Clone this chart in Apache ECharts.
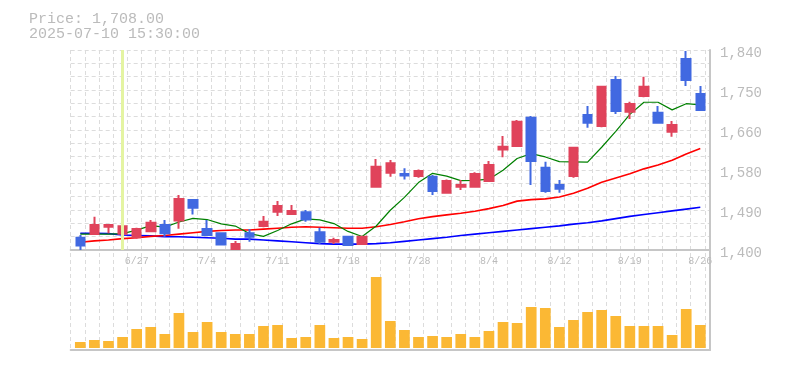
<!DOCTYPE html>
<html><head><meta charset="utf-8">
<script src="https://cdn.jsdelivr.net/npm/echarts@6.0.0/dist/echarts.min.js"></script>
<style>html,body{margin:0;padding:0;background:#fff}#c{width:785px;height:370px}</style>
</head><body><div id="c"></div>
<script>
const dates = ['6/23','6/24','6/25','6/26','6/27','6/30','7/1','7/2','7/3','7/4',
  '7/7','7/8','7/9','7/10','7/11','7/14','7/15','7/16','7/17','7/18',
  '7/22','7/23','7/24','7/25','7/28','7/29','7/30','7/31','8/1','8/4',
  '8/5','8/6','8/7','8/8','8/12','8/13','8/14','8/15','8/18','8/19',
  '8/20','8/21','8/22','8/25','8/26'];
const opens  = [1427,1435,1451,1436,1428,1441,1455,1465,1510,1446,1437,1402,1437,1453,1484,1479,1483,1439,1418,1429,1413,1539,1570,1567,1563,1561,1526,1539,1539,1552,1621,1629,1691,1581,1543,1563,1697,1673,1774,1704,1739,1702,1660,1820,1743];
const highs  = [1433,1473,1457,1457,1449,1466,1466,1521,1510,1466,1439,1420,1446,1475,1508,1499,1488,1449,1427,1431,1429,1600,1598,1580,1577,1565,1555,1554,1571,1596,1651,1686,1695,1594,1554,1625,1717,1761,1783,1726,1781,1717,1684,1838,1761];
const lows   = [1400,1435,1437,1435,1425,1440,1429,1447,1478,1431,1412,1402,1418,1450,1475,1477,1462,1413,1413,1411,1413,1537,1561,1555,1559,1521,1526,1532,1537,1550,1604,1628,1543,1526,1526,1559,1669,1670,1699,1688,1736,1680,1649,1761,1708];
const closes = [1410,1455,1455,1452,1446,1460,1437,1512,1493,1433,1412,1413,1429,1462,1497,1486,1467,1418,1422,1411,1429,1583,1591,1564,1574,1530,1552,1543,1567,1587,1627,1682,1596,1530,1535,1625,1680,1759,1706,1721,1759,1680,1675,1774,1708];
const volumes = [18000,24000,21000,33000,57000,63000,42000,105000,48000,78000,48000,42000,42000,66000,69000,30000,33000,69000,30000,33000,27000,213000,81000,54000,33000,36000,33000,42000,33000,51000,78000,75000,123000,120000,63000,84000,108000,114000,96000,66000,66000,66000,39000,117000,69000];
const ma5  = [1435,1435,1435,1436,1443.7,1453.7,1450.2,1461.6,1469.7,1467.0,1457.5,1452.6,1436.1,1429.9,1442.8,1457.6,1468.5,1466.3,1458.2,1440.9,1429.6,1452.8,1487.4,1515.9,1548.4,1568.7,1562.4,1552.7,1553.3,1555.9,1575.3,1601.4,1612.1,1604.7,1594.3,1593.9,1593.4,1626.0,1661.0,1698.3,1725.1,1725.1,1708.3,1721.9,1719.3];
const ma25 = [1417,1420,1422,1425,1427,1430,1432,1435,1438,1441,1443,1444,1444,1446,1448,1450,1451,1450,1449,1448,1448,1451,1456,1462,1468.6,1473.4,1477.3,1480.8,1485.4,1491.0,1497.7,1507.5,1510.9,1512.4,1516.5,1525.0,1535.7,1548.9,1558.6,1567.6,1578.5,1587.0,1597.3,1611.4,1623.2];
const ma75 = [1437,1437,1436,1433,1432,1431,1429,1429,1428,1427,1426,1424,1424,1422,1420,1418,1416,1414,1413,1413,1413,1414,1416,1419,1422,1425,1428,1432,1435,1438,1441,1444,1447,1450,1453,1457,1460,1464,1469,1474,1478,1482,1486,1490,1494];
const priceTickLabels = ['1,400','1,490','1,580','1,660','1,750','1,840'];
const priceMin = 1400, priceMax = 1840, priceStep = 88;
const headerLines = ['Price: 1,708.00', '2025-07-10 15:30:00'];
const highlightIndex = 3;
const labelEvery = 5;
const volumeMax = 234000;
const gridRows = 15;

const gray = '#c6c6c6';
const dash = {color:'#dcdcdc', width:1, type:[4,3]};
const fontFam = '"Liberation Mono", "DejaVu Sans Mono", monospace';
const outerL = 70.7, outerR = 75, innerL = 73.25, innerR = 77.65;
const bandPx = (785 - innerL - innerR) / dates.length;
const vMax = (785 - outerR - outerL) / bandPx;

const chart = echarts.init(document.getElementById('c'));
chart.setOption({
  animation: false,
  backgroundColor: '#fff',
  graphic: headerLines.map((t, i) => ({
    type: 'text', left: 29, top: 11.5 + i * 15.5,
    style: {text: t, fill: '#bbbbbb', font: '15px ' + fontFam}
  })),
  grid: [
    {left: innerL, right: innerR, top: 50, height: 200},
    {left: innerL, right: innerR, top: 270, height: 78},
    {left: outerL, right: outerR, top: 50, height: 200},
    {left: outerL, right: outerR, top: 50, height: 300}
  ],
  xAxis: [
    {type: 'category', gridIndex: 0, data: dates, boundaryGap: true,
     axisLine: {show: false}, axisTick: {show: false}, splitLine: {show: false},
     axisLabel: {interval: (i) => (dates.length - 1 - i) % labelEvery === 0,
       color: '#bbbbbb', fontFamily: fontFam, fontSize: 10, margin: 6}},
    {type: 'category', gridIndex: 1, data: dates, boundaryGap: true,
     axisLine: {show: false}, axisTick: {show: false}, axisLabel: {show: false}, splitLine: {show: false}},
    {type: 'value', gridIndex: 2, min: 0, max: 1,
     axisLine: {show: true, onZero: false, lineStyle: {color: gray, width: 2}},
     axisTick: {show: false}, axisLabel: {show: false}, splitLine: {show: false}},
    {type: 'value', gridIndex: 3, min: 0, max: vMax, interval: 1,
     axisLine: {show: true, onZero: false, lineStyle: {color: gray, width: 2}},
     axisTick: {show: false}, axisLabel: {show: false},
     splitLine: {show: true, lineStyle: dash}}
  ],
  yAxis: [
    {type: 'value', gridIndex: 0, position: 'right', offset: 785 - outerR - (785 - innerR),
     min: priceMin, max: priceMax, interval: priceStep,
     axisLine: {show: false}, axisTick: {show: false}, splitLine: {show: false},
     axisLabel: {margin: 10, color: '#bbbbbb', fontFamily: fontFam, fontSize: 14,
       verticalAlign: 'top', lineHeight: 6,
       formatter: (v) => priceTickLabels[Math.round((v - priceMin) / priceStep)]}},
    {type: 'value', gridIndex: 1, min: 0, max: volumeMax, show: false},
    {type: 'value', gridIndex: 2, min: 0, max: gridRows, interval: 1, position: 'right',
     axisLine: {show: false}, axisTick: {show: false}, axisLabel: {show: false},
     splitLine: {show: true, lineStyle: dash}},
    {type: 'value', gridIndex: 3, min: 0, max: 1, position: 'right',
     axisLine: {show: true, onZero: false, lineStyle: {color: gray, width: 2}},
     axisTick: {show: false}, axisLabel: {show: false}, splitLine: {show: false}}
  ],
  series: [
    {type: 'line', xAxisIndex: 0, yAxisIndex: 0, data: [], z: 1, silent: true,
     markLine: {silent: true, symbol: 'none', animation: false,
       label: {show: false}, lineStyle: {color: '#e4f4a2', width: 3, type: 'solid'},
       data: [{xAxis: dates[highlightIndex]}]}},
    {type: 'line', name: 'MA75', xAxisIndex: 0, yAxisIndex: 0, data: ma75, symbol: 'none', z: 2,
     lineStyle: {color: '#0000ff', width: 1.6}},
    {type: 'line', name: 'MA25', xAxisIndex: 0, yAxisIndex: 0, data: ma25, symbol: 'none', z: 2,
     lineStyle: {color: '#ff0000', width: 1.6}},
    {type: 'line', name: 'MA5', xAxisIndex: 0, yAxisIndex: 0, data: ma5, symbol: 'none', z: 2,
     lineStyle: {color: '#008000', width: 1.2}},
    {type: 'candlestick', xAxisIndex: 0, yAxisIndex: 0, z: 3, barWidth: 9,
     data: opens.map((o, i) => [o, closes[i], lows[i], highs[i]]),
     itemStyle: {color: '#e0435b', color0: '#4169e1', borderColor: '#e0435b', borderColor0: '#4169e1', borderWidth: 2}},
    {type: 'bar', xAxisIndex: 1, yAxisIndex: 1, data: volumes, barWidth: 10.7,
     itemStyle: {color: '#fbb834'}}
  ]
});
</script>
</body></html>
